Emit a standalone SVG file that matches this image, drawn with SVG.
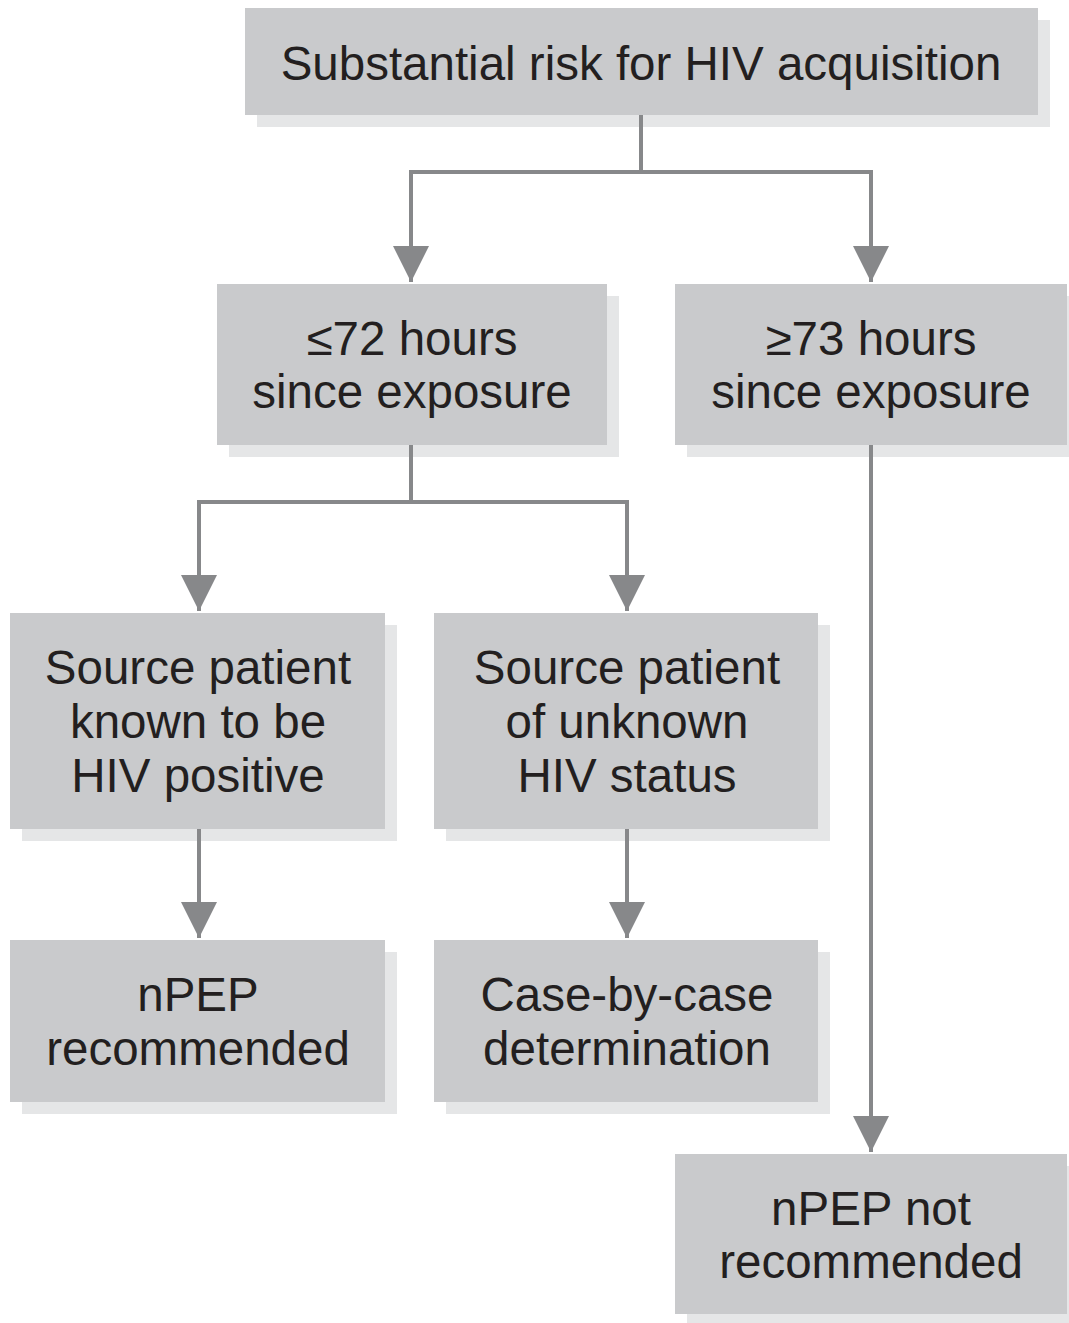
<svg xmlns="http://www.w3.org/2000/svg" width="1069" height="1323" viewBox="0 0 1069 1323">
<defs>
<style>
.sh{fill:#e5e6e7}
.bx{fill:#c9cacc}
.t{font-family:"Liberation Sans",Arial,sans-serif;font-size:47.5px;fill:#231f20;text-anchor:middle}
.c{fill:none;stroke:#87888a;stroke-width:4}
</style>
<marker id="ah" markerUnits="userSpaceOnUse" markerWidth="36" markerHeight="42" refX="36" refY="18" orient="auto" viewBox="0 0 36 36">
<path d="M0,0 L36,18 L0,36 Z" fill="#87888a"/>
</marker>
</defs>
<rect width="1069" height="1323" fill="#fff"/>
<g id="n1">
<rect class="sh" x="257" y="20" width="793" height="107"/>
<rect class="bx" x="245" y="8" width="793" height="107"/>
<text class="t" x="641" y="80">Substantial risk for HIV acquisition</text>
</g>
<g id="n2">
<rect class="sh" x="229" y="296" width="390" height="161"/>
<rect class="bx" x="217" y="284" width="390" height="161"/>
<text class="t" x="412" y="355">≤72 hours</text>
<text class="t" x="412" y="408">since exposure</text>
</g>
<g id="n3">
<rect class="sh" x="687" y="296" width="392" height="161"/>
<rect class="bx" x="675" y="284" width="392" height="161"/>
<text class="t" x="871" y="355">≥73 hours</text>
<text class="t" x="871" y="408">since exposure</text>
</g>
<g id="n4">
<rect class="sh" x="22" y="625" width="375" height="216"/>
<rect class="bx" x="10" y="613" width="375" height="216"/>
<text class="t" x="198" y="684">Source patient</text>
<text class="t" x="198" y="738">known to be</text>
<text class="t" x="198" y="792">HIV positive</text>
</g>
<g id="n5">
<rect class="sh" x="446" y="625" width="384" height="216"/>
<rect class="bx" x="434" y="613" width="384" height="216"/>
<text class="t" x="627" y="684">Source patient</text>
<text class="t" x="627" y="738">of unknown</text>
<text class="t" x="627" y="792">HIV status</text>
</g>
<g id="n6">
<rect class="sh" x="22" y="952" width="375" height="162"/>
<rect class="bx" x="10" y="940" width="375" height="162"/>
<text class="t" x="198" y="1011">nPEP</text>
<text class="t" x="198" y="1065">recommended</text>
</g>
<g id="n7">
<rect class="sh" x="446" y="952" width="384" height="162"/>
<rect class="bx" x="434" y="940" width="384" height="162"/>
<text class="t" x="627" y="1011">Case-by-case</text>
<text class="t" x="627" y="1065">determination</text>
</g>
<g id="n8">
<rect class="sh" x="687" y="1166" width="392" height="160"/>
<rect class="bx" x="675" y="1154" width="392" height="160"/>
<text class="t" x="871" y="1225">nPEP not</text>
<text class="t" x="871" y="1278">recommended</text>
</g>
<g id="connectors">
<path class="c" d="M641,115 V172 H411 V282" marker-end="url(#ah)"/>
<path class="c" d="M641,172 H871 V282" marker-end="url(#ah)"/>
<path class="c" d="M411,445 V502 H199 V611" marker-end="url(#ah)"/>
<path class="c" d="M411,502 H627 V611" marker-end="url(#ah)"/>
<path class="c" d="M199,829 V938" marker-end="url(#ah)"/>
<path class="c" d="M627,829 V938" marker-end="url(#ah)"/>
<path class="c" d="M871,445 V1152" marker-end="url(#ah)"/>
</g>
</svg>
